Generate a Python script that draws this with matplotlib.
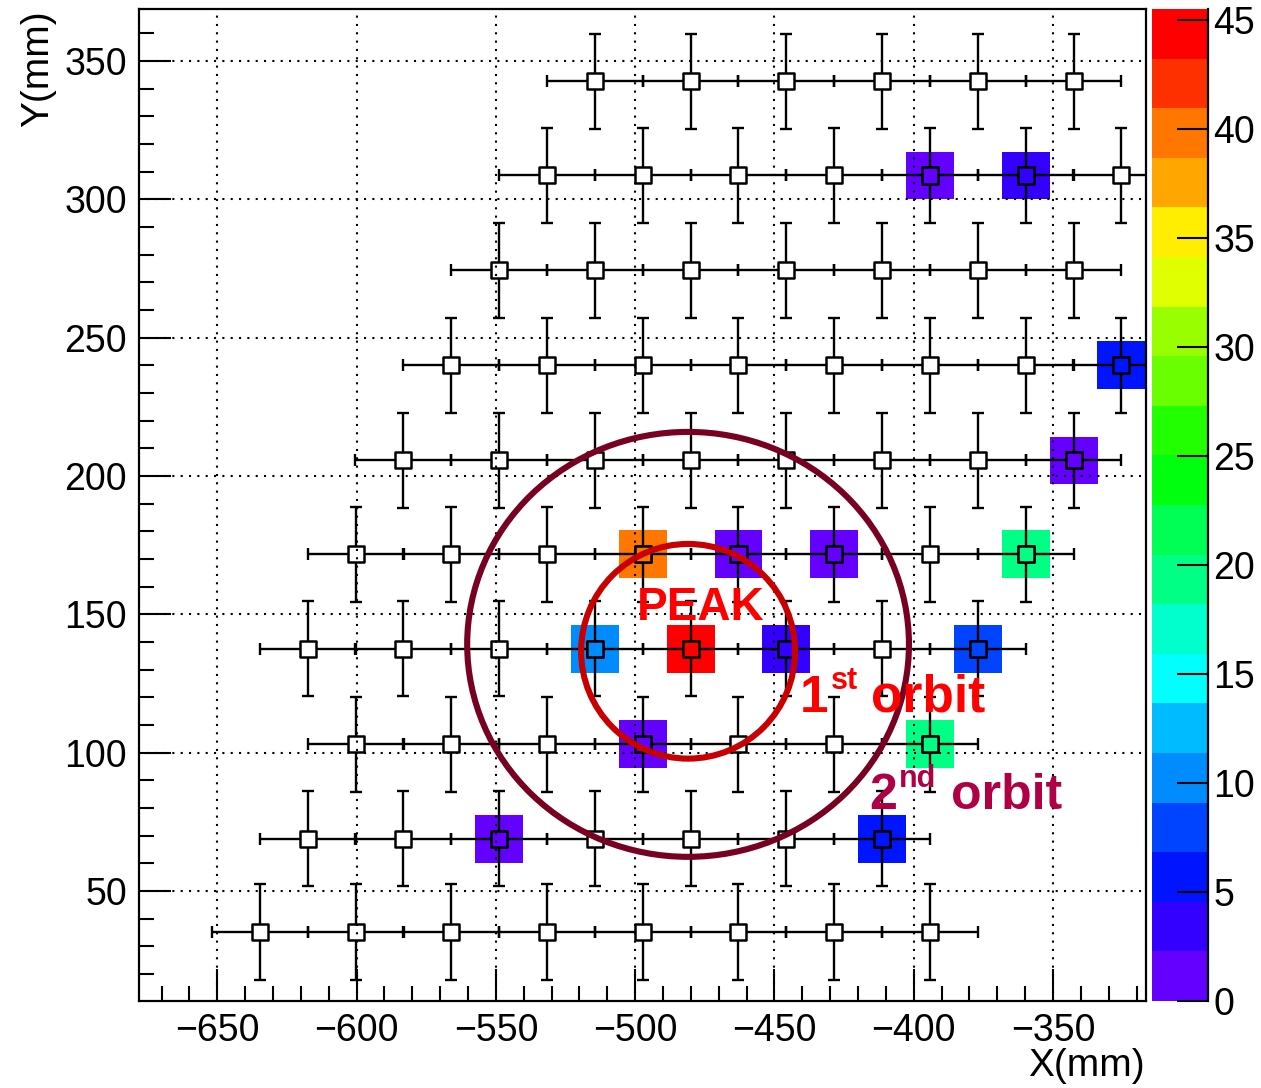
#!/usr/bin/python
# -*- coding: UTF-8 -*-
"""
# Hit map of the detector cells, with the peak and the 1st / 2nd orbit rings
"""
import matplotlib
matplotlib.use('Agg')
import matplotlib.pyplot as plt
from matplotlib.colors import ListedColormap, BoundaryNorm
from matplotlib.patches import Rectangle, Ellipse
from matplotlib.collections import PatchCollection
import numpy as np

plt.rcParams['font.family'] = ['Liberation Sans', 'DejaVu Sans']

# cell centres (mm), one x list per row
row_y = [35.1, 68.8, 103.0, 137.5, 171.7, 205.6, 240.0, 274.3, 308.6, 342.6]
row_x = [
    [-634.7, -600.3, -566.0, -531.6, -497.3, -462.9, -428.5, -394.2],
    [-617.5, -583.2, -548.8, -514.4, -480.1, -445.7, -411.4],
    [-600.3, -566.0, -531.6, -497.3, -462.9, -428.5, -394.2],
    [-617.5, -583.2, -548.8, -514.4, -480.1, -445.7, -411.4, -377.0],
    [-600.3, -566.0, -531.6, -497.3, -462.9, -428.5, -394.2, -359.8],
    [-583.2, -548.8, -514.4, -480.1, -445.7, -411.4, -377.0, -342.6],
    [-566.0, -531.6, -497.3, -462.9, -428.5, -394.2, -359.8, -325.5],
    [-548.8, -514.4, -480.1, -445.7, -411.4, -377.0, -342.6],
    [-531.6, -497.3, -462.9, -428.5, -394.2, -359.8, -325.5],
    [-514.4, -480.1, -445.7, -411.4, -377.0, -342.6],
]
cell_err = 17.2   # half size of a cell (error bars)

# cells with hits and their counts
hit_x = [-394.2, -359.8, -325.5, -342.6, -497.3, -462.9, -428.5, -359.8,
         -514.4, -480.1, -445.7, -377.0, -497.3, -394.2, -548.8, -411.4]
hit_y = [308.6, 308.6, 240.0, 205.6, 171.7, 171.7, 171.7, 171.7,
         137.5, 137.5, 137.5, 137.5, 103.0, 103.0, 68.8, 68.8]
hit_val = [1, 3.5, 5.5, 1, 40, 1, 1, 19.5,
           10, 45.5, 3.5, 8, 1, 19.5, 1, 5.5]
z_max = 45.5

# ROOT "pretty palette" with 20 contour levels
palette = ['#6300FF', '#3300FF', '#0014FF', '#0044FF', '#008BFF',
           '#00BBFF', '#00FFFD', '#00FFCC', '#00FF85', '#00FF55',
           '#00FF0E', '#22FF00', '#69FF00', '#99FF00', '#E0FF00',
           '#FFEE00', '#FFA700', '#FF7700', '#FF3000', '#FF0000']
cmap = ListedColormap(palette)
norm = BoundaryNorm(np.linspace(0, z_max, len(palette) + 1), cmap.N)

xs = [x for row, y in zip(row_x, row_y) for x in row]
ys = [y for row, y in zip(row_x, row_y) for x in row]

fig = plt.figure(figsize=(12.61, 10.88), dpi=100)
ax = fig.add_axes([0.1105, 0.0800, 0.7983, 0.9118])
cax = fig.add_axes([0.9136, 0.0800, 0.0444, 0.9118])

# coloured cells (2D histogram boxes)
box = 17.2
rects = [Rectangle((x - box / 2, y - box / 2), box, box) for x, y in zip(hit_x, hit_y)]
pc = PatchCollection(rects, cmap=cmap, norm=norm, edgecolor='none', zorder=1)
pc.set_array(np.array(hit_val))
ax.add_collection(pc)

# error bars and open square markers
ax.errorbar(xs, ys, xerr=cell_err, yerr=cell_err, fmt='none', ecolor='black',
            elinewidth=1.7, capsize=4, capthick=1.7, zorder=2)
ax.scatter(xs, ys, marker='s', s=135, facecolor='white', edgecolor='black',
           linewidth=1.8, zorder=2.2)
ax.scatter(hit_x, hit_y, marker='s', s=135, c=hit_val, cmap=cmap, norm=norm,
           edgecolor='black', linewidth=1.8, zorder=2.3)

# rings around the peak
ax.add_patch(Ellipse((-481.0, 139.1), 2 * 79.3, 2 * 76.8, fill=False,
                     edgecolor='#780020', linewidth=4.4, zorder=4))
ax.add_patch(Ellipse((-481.0, 136.6), 2 * 38.4, 2 * 38.8, fill=False,
                     edgecolor='#C80000', linewidth=4.4, zorder=4))

# labels
ax.text(-476.4, 147.9, 'PEAK', color='#FF0000', fontsize=33, fontweight='bold',
        ha='center', va='baseline', zorder=5)
ax.text(-441.0, 114.8, '1', color='#FF0000', fontsize=37, fontweight='bold', va='baseline', zorder=5)
ax.text(-429.8, 123.0, 'st', color='#FF0000', fontsize=22, fontweight='bold', va='baseline', zorder=5)
ax.text(-415.4, 114.8, 'orbit', color='#FF0000', fontsize=37, fontweight='bold', va='baseline', zorder=5)
ax.text(-416.1, 79.7, '2', color='#B00045', fontsize=36, fontweight='bold', va='baseline', zorder=5)
ax.text(-405.4, 87.7, 'nd', color='#B00045', fontsize=22, fontweight='bold', va='baseline', zorder=5)
ax.text(-386.6, 79.7, 'orbit', color='#B00045', fontsize=36, fontweight='bold', va='baseline', zorder=5)

# axes
ax.set_xlim(-678, -316.6)
ax.set_ylim(10.2, 368.8)
ax.set_xticks(np.arange(-650, -349, 50))
ax.set_xticks(np.arange(-670, -319, 10), minor=True)
ax.set_yticks(np.arange(50, 351, 50))
ax.set_yticks(np.arange(20, 361, 10), minor=True)
ax.tick_params(which='both', direction='in', width=1.5, labelsize=27, pad=9,
               top=False, right=False)
ax.tick_params(which='major', length=23)
ax.tick_params(which='minor', length=11)
for sp in ax.spines.values():
    sp.set_linewidth(1.6)
ax.set_axisbelow(False)
ax.grid(which='major', color='black', linestyle=(0, (1, 3)), linewidth=1.5)

fig.text(38 / 1261, 1 - 10 / 1088, 'Y(mm)', rotation=90, fontsize=28, ha='center', va='top')
fig.text(1145 / 1261, 1 - 1066 / 1088, 'X(mm)', fontsize=28, ha='right', va='center')

# colour bar
cbar = fig.colorbar(pc, cax=cax, ticks=np.arange(0, 46, 5))
cbar.minorticks_off()
cbar.outline.set_visible(False)
cax.tick_params(direction='in', length=22, width=1.5, labelsize=27, pad=4)
cax.plot([1, 1], [0, 1], color='black', linewidth=1.6, transform=cax.transAxes, clip_on=False)

plt.savefig('out.png', dpi=100, facecolor='white')
